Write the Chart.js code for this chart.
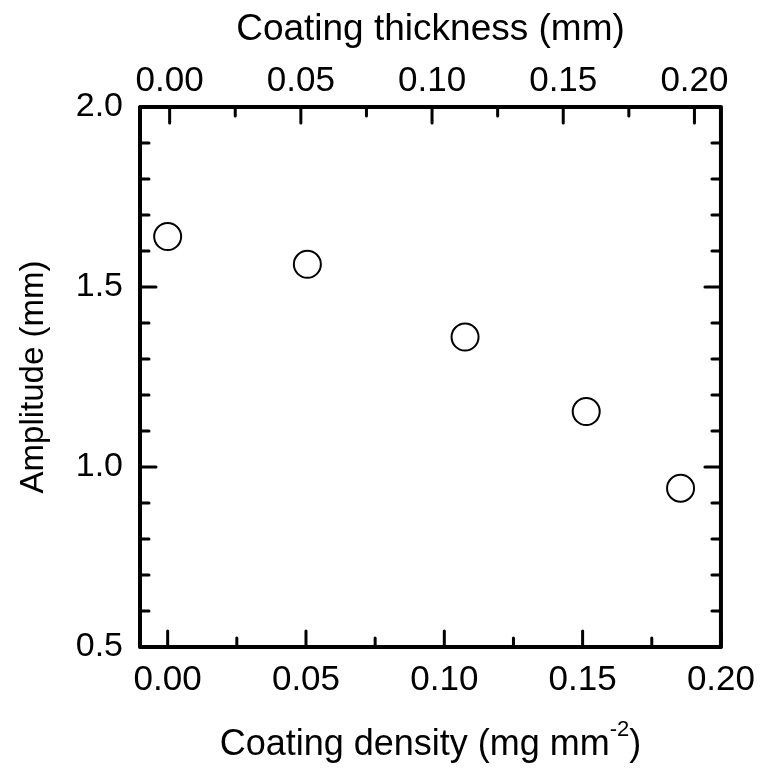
<!DOCTYPE html>
<html>
<head>
<meta charset="utf-8">
<script src="https://cdn.jsdelivr.net/npm/chart.js@4/dist/chart.umd.min.js"></script>
<style>
  body { margin: 0; background: #fff; }
  canvas { display: block; }
</style>
</head>
<body>
<canvas id="chart" width="767" height="769"></canvas>
<script>
// values
const densities = [0.0, 0.0505, 0.1075, 0.1513, 0.1854]; // mg mm^-2
const amplitudes = [1.640, 1.563, 1.361, 1.154, 0.941]; // mm
const xTicks = [0.0, 0.05, 0.1, 0.15, 0.2];
const thicknessTicks = [0.0, 0.05, 0.1, 0.15, 0.2];
const yTicks = [0.5, 1.0, 1.5, 2.0];

const FONT = "'Liberation Sans', Arial, sans-serif";

const points = densities.map((d, i) => ({ x: d, y: amplitudes[i] }));

// fixed box around the plot, like the original figure
function fixSize(size, horizontal) {
  return function (scale) {
    if (horizontal) scale.height = size;
    else scale.width = size;
  };
}

// frame + inward major/minor ticks
const framePlugin = {
  id: "frame",
  afterDraw(chart) {
    const ctx = chart.ctx;
    const a = chart.chartArea;
    const s = chart.scales;
    const major = 16, minor = 9;
    ctx.save();
    ctx.strokeStyle = "#000";
    ctx.lineCap = "round";
    ctx.lineWidth = 3;

    function vTick(scale, v, len, atTop) {
      const x = scale.getPixelForValue(v);
      ctx.beginPath();
      if (atTop) { ctx.moveTo(x, a.top); ctx.lineTo(x, a.top + len); }
      else { ctx.moveTo(x, a.bottom); ctx.lineTo(x, a.bottom - len); }
      ctx.stroke();
    }
    function hTick(scale, v, len, atLeft) {
      const y = scale.getPixelForValue(v);
      ctx.beginPath();
      if (atLeft) { ctx.moveTo(a.left, y); ctx.lineTo(a.left + len, y); }
      else { ctx.moveTo(a.right, y); ctx.lineTo(a.right - len, y); }
      ctx.stroke();
    }

    for (let i = 0; i <= 8; i++) {
      const v = i * 0.025;
      const len = i % 2 === 0 ? major : minor;
      vTick(s.x, v, len, false);
      vTick(s.x2, v, len, true);
    }
    for (let i = 5; i <= 20; i++) {
      const v = i / 10;
      const len = i % 5 === 0 ? major : minor;
      hTick(s.y, v, len, true);
      hTick(s.y2, v, len, false);
    }

    ctx.lineWidth = 4;
    ctx.lineJoin = "round";
    ctx.strokeRect(a.left, a.top, a.right - a.left, a.bottom - a.top);

    // bottom axis title with superscript
    const cx = (a.left + a.right) / 2;
    const y = 745;
    const big = "36px " + FONT, small = "22px " + FONT;
    const p1 = "Coating density (mg mm";
    const p2 = "-2";
    const p3 = ")";
    ctx.fillStyle = "#000";
    ctx.textBaseline = "middle";
    ctx.textAlign = "left";
    ctx.font = big;
    const w1 = ctx.measureText(p1).width;
    const w3 = ctx.measureText(p3).width;
    ctx.font = small;
    const w2 = ctx.measureText(p2).width;
    const x = cx - (w1 + w2 + w3) / 2;
    ctx.font = big;
    ctx.fillText(p1, x, y);
    ctx.fillText(p3, x + w1 + w2, y);
    ctx.font = small;
    ctx.fillText(p2, x + w1, y - 15);
    ctx.restore();
  },
};

new Chart(document.getElementById("chart"), {
  type: "scatter",
  data: {
    datasets: [
      {
        data: points,
        xAxisID: "x",
        yAxisID: "y",
        pointStyle: "circle",
        pointRadius: 13.5,
        pointHoverRadius: 13.5,
        borderColor: "#000",
        borderWidth: 2,
        backgroundColor: "rgba(255,255,255,0)",
      },
    ],
  },
  options: {
    responsive: false,
    animation: false,
    layout: { padding: 0 },
    plugins: {
      legend: { display: false },
      tooltip: { enabled: false },
    },
    scales: {
      x: {
        type: "linear",
        position: "bottom",
        min: -0.01,
        max: 0.2,
        afterFit: fixSize(122, true),
        grid: { display: false, drawTicks: false },
        border: { display: false },
        afterBuildTicks: (scale) => { scale.ticks = xTicks.map((v) => ({ value: v })); },
        ticks: {
          padding: 12,
          color: "#000",
          font: { family: FONT, size: 35 },
          maxRotation: 0,
          callback: (v) => v.toFixed(2),
        },
      },
      x2: {
        type: "linear",
        position: "top",
        min: -0.0113,
        max: 0.2101,
        afterFit: fixSize(107, true),
        grid: { display: false, drawTicks: false },
        border: { display: false },
        afterBuildTicks: (scale) => { scale.ticks = thicknessTicks.map((v) => ({ value: v })); },
        ticks: {
          padding: 5,
          color: "#000",
          font: { family: FONT, size: 35 },
          maxRotation: 0,
          callback: (v) => v.toFixed(2),
        },
        title: {
          display: true,
          text: "Coating thickness (mm)",
          color: "#000",
          font: { family: FONT, size: 37 },
          padding: { top: 8, bottom: 0 },
        },
      },
      y: {
        type: "linear",
        position: "left",
        min: 0.5,
        max: 2.0,
        afterFit: fixSize(140, false),
        grid: { display: false, drawTicks: false },
        border: { display: false },
        afterBuildTicks: (scale) => { scale.ticks = yTicks.map((v) => ({ value: v })); },
        ticks: {
          padding: 17,
          color: "#000",
          font: { family: FONT, size: 34 },
          callback: (v) => v.toFixed(1),
        },
        title: {
          display: true,
          text: "Amplitude (mm)",
          color: "#000",
          font: { family: FONT, size: 33 },
          padding: { top: 14, bottom: 0 },
        },
      },
      y2: {
        type: "linear",
        position: "right",
        min: 0.5,
        max: 2.0,
        afterFit: fixSize(37, false),
        grid: { display: false, drawTicks: false },
        border: { display: false },
        ticks: { display: false },
      },
    },
  },
  plugins: [framePlugin],
});
</script>
</body>
</html>
